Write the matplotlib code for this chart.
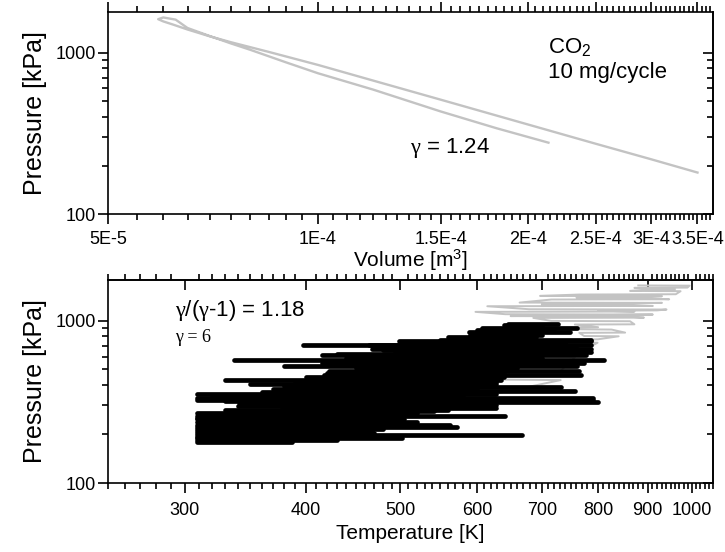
import matplotlib
matplotlib.use("Agg")
import matplotlib.pyplot as plt
from matplotlib.ticker import FixedLocator, FixedFormatter, NullFormatter, LogLocator

plt.rcParams['font.family'] = ['Liberation Sans', 'DejaVu Sans']
plt.rcParams['mathtext.fontset'] = 'custom'
plt.rcParams['mathtext.rm'] = 'Liberation Sans'
plt.rcParams['mathtext.it'] = 'Liberation Serif'
plt.rcParams['axes.linewidth'] = 1.2

# ---- P-V loop (CO2, 10 mg/cycle) ----
compression_v = [3.5e-4, 3.0e-4, 2.5e-4, 2.0e-4, 1.5e-4, 1.2e-4, 1.0e-4, 8.5e-5,
                 7.5e-5, 7.0e-5, 6.5e-5, 6.2e-5, 6.0e-5, 5.9e-5]
compression_p = [181, 219, 273, 359, 511, 671, 839, 1010,
                 1160, 1260, 1390, 1490, 1560, 1610]
expansion_v = [5.9e-5, 6.0e-5, 6.25e-5, 6.5e-5, 7.0e-5, 7.5e-5, 8.0e-5, 9.0e-5, 1.0e-4,
               1.2e-4, 1.5e-4, 1.8e-4, 2.14e-4]
expansion_p = [1610, 1650, 1600, 1420, 1265, 1140, 1040, 870, 745,
               590, 432, 341, 277]

vol_ticks = [5e-5, 1e-4, 1.5e-4, 2e-4, 2.5e-4, 3e-4, 3.5e-4]
vol_ticklabels = ['5E-5', '1E-4', '1.5E-4', '2E-4', '2.5E-4', '3E-4', '3.5E-4']

# ---- P-T traces ----
black_p = [950, 935, 905, 880, 850, 820, 790, 760, 745, 725, 710, 705, 690, 672, 655,
           641, 625, 612, 590, 575, 560, 548, 535, 523, 507, 492, 478, 465, 450, 433,
           420, 407, 397, 388, 380, 371, 362, 353, 343, 334, 326, 320, 314, 304, 297,
           290, 283, 276, 268, 258, 252, 246, 238, 229, 220, 215, 210, 204, 198, 193,
           189, 184, 180]
black_tlo = [646, 640, 608, 600, 589, 590, 560, 550, 499, 520, 465, 397, 500, 468, 480,
             494, 430, 415, 440, 337, 460, 415, 430, 380, 450, 422, 420, 417, 400, 330,
             390, 350, 380, 391, 370, 389, 360, 309, 320, 309, 309, 330, 341, 341, 340,
             378, 330, 378, 309, 309, 309, 309, 309, 309, 309, 309, 309, 309, 309, 309,
             309, 309, 309]
black_thi = [728, 700, 761, 720, 748, 700, 690, 786, 786, 740, 740, 786, 760, 786, 720,
             786, 700, 778, 700, 812, 690, 774, 680, 761, 660, 765, 640, 769, 640, 635,
             628, 628, 620, 732, 600, 757, 600, 628, 580, 791, 791, 640, 799, 628, 600,
             628, 560, 542, 520, 642, 500, 505, 520, 563, 573, 480, 468, 470, 668, 460,
             502, 430, 387]

gray_t = [468, 635, 732, 640, 650, 732, 757, 701, 716, 774, 745, 790, 799, 765, 782,
          800, 840, 774, 765, 853, 826, 757, 700, 800, 757, 872, 863, 716, 686, 892,
          850, 650, 911, 642, 598, 872, 800, 920, 941, 679, 615, 911, 850, 700, 931,
          664, 716, 947, 880, 760, 931, 697, 765, 962, 973, 863, 900, 960, 872, 989,
          994, 880]
gray_p = [355, 360, 430, 433, 488, 490, 594, 597, 647, 650, 700, 705, 730, 733, 764,
          767, 800, 803, 840, 843, 880, 884, 905, 910, 945, 948, 990, 995, 1038, 1042,
          1060, 1065, 1089, 1094, 1131, 1136, 1150, 1155, 1169, 1174, 1225, 1230, 1250,
          1255, 1285, 1290, 1347, 1352, 1380, 1385, 1412, 1418, 1446, 1452, 1516, 1522,
          1550, 1555, 1589, 1595, 1640, 1645]

temp_ticks = [300, 400, 500, 600, 700, 800, 900, 1000]

P_LIM = (100, 1780)
GRAY = '#c3c3c3'

fig = plt.figure(figsize=(7.25, 5.52), dpi=100)
ax1 = fig.add_axes([0.149, 0.612, 0.834, 0.366])
ax2 = fig.add_axes([0.149, 0.125, 0.834, 0.368])

ident = (lambda v: v, lambda v: v)


def style_y(ax):
    ax.set_yscale('log')
    ax.set_ylim(*P_LIM)
    ax.yaxis.set_major_locator(FixedLocator([100, 1000]))
    ax.yaxis.set_major_formatter(FixedFormatter(['100', '1000']))
    ax.yaxis.set_minor_locator(LogLocator(base=10, subs=range(2, 10)))
    ax.yaxis.set_minor_formatter(NullFormatter())
    ax.tick_params(axis='y', which='both', direction='out', left=True, right=False,
                   labelsize=13, width=1.2, pad=2)
    ax.tick_params(axis='y', which='major', length=7)
    ax.tick_params(axis='y', which='minor', length=4)
    ax.set_ylabel('Pressure [kPa]', fontsize=18, labelpad=6)
    sec = ax.secondary_yaxis('right', functions=ident)
    sec.yaxis.set_major_locator(FixedLocator([100, 1000]))
    sec.yaxis.set_minor_locator(FixedLocator([200, 300, 400, 500, 600, 700, 800, 900]))
    sec.yaxis.set_minor_formatter(NullFormatter())
    sec.tick_params(which='both', direction='in', labelright=False, width=1.2)
    sec.tick_params(which='major', length=7)
    sec.tick_params(which='minor', length=4)
    sec.spines['right'].set_linewidth(1.2)


# ---------------- top panel ----------------
ax1.plot(compression_v + expansion_v, compression_p + expansion_p,
         color=GRAY, lw=1.7, solid_joinstyle='round')
ax1.set_xscale('log')
ax1.set_xlim(5e-5, 3.68e-4)
vol_minor = [round(5e-6 * k, 7) for k in range(10, 74) if k % 10 != 0]
ax1.xaxis.set_major_locator(FixedLocator(vol_ticks))
ax1.xaxis.set_major_formatter(FixedFormatter(vol_ticklabels))
ax1.xaxis.set_minor_locator(FixedLocator(vol_minor))
ax1.xaxis.set_minor_formatter(NullFormatter())
ax1.tick_params(axis='x', which='both', direction='out', top=True, bottom=True,
                labelsize=13, width=1.2, pad=5)
ax1.tick_params(axis='x', which='major', length=7)
ax1.tick_params(axis='x', which='minor', length=4)
ax1.set_xlabel('Volume [m$^{3}$]', fontsize=15, labelpad=0)
style_y(ax1)

ax1.text(0.727, 0.827, 'CO$_{2}$', transform=ax1.transAxes, fontsize=16, va='center')
ax1.text(0.727, 0.703, '10 mg/cycle', transform=ax1.transAxes, fontsize=16, va='center')
ax1.text(0.499, 0.327, r'$\gamma$ = 1.24', transform=ax1.transAxes, fontsize=16, va='center')

# ---------------- bottom panel ----------------
ax2.plot(gray_t, gray_p, color=GRAY, lw=1.4, zorder=1)
segs = ax2.hlines(black_p, black_tlo, black_thi, colors='black', lw=3.4, zorder=2)
segs.set_capstyle('round')
ax2.set_xscale('log')
ax2.set_xlim(250, 1050)
temp_minor = [t for t in range(250, 1051, 10) if t % 100 != 0]
ax2.xaxis.set_major_locator(FixedLocator(temp_ticks))
ax2.xaxis.set_major_formatter(FixedFormatter([str(t) for t in temp_ticks]))
ax2.xaxis.set_minor_locator(FixedLocator(temp_minor))
ax2.xaxis.set_minor_formatter(NullFormatter())
ax2.tick_params(axis='x', which='both', direction='out', top=False, bottom=True,
                labelsize=13, width=1.2, pad=7)
ax2.tick_params(axis='x', which='major', length=7)
ax2.tick_params(axis='x', which='minor', length=4)
ax2.set_xlabel('Temperature [K]', fontsize=15, labelpad=3)
style_y(ax2)

top2 = ax2.secondary_xaxis('top', functions=ident)
top2.xaxis.set_major_locator(FixedLocator(temp_ticks))
top2.xaxis.set_minor_locator(FixedLocator(temp_minor))
top2.xaxis.set_minor_formatter(NullFormatter())
top2.tick_params(which='major', direction='in', length=7, width=1.2, labeltop=False)
top2.tick_params(which='minor', direction='out', length=4, width=1.2)
top2.spines['top'].set_linewidth(1.2)

ax2.text(0.111, 0.847, r'$\gamma$/($\gamma$-1) = 1.18', transform=ax2.transAxes,
         fontsize=16, va='center')
ax2.text(0.111, 0.714, 'γ = 6', transform=ax2.transAxes, fontsize=13,
         family=['Liberation Serif'], va='center')

fig.savefig('out.png', dpi=100)
